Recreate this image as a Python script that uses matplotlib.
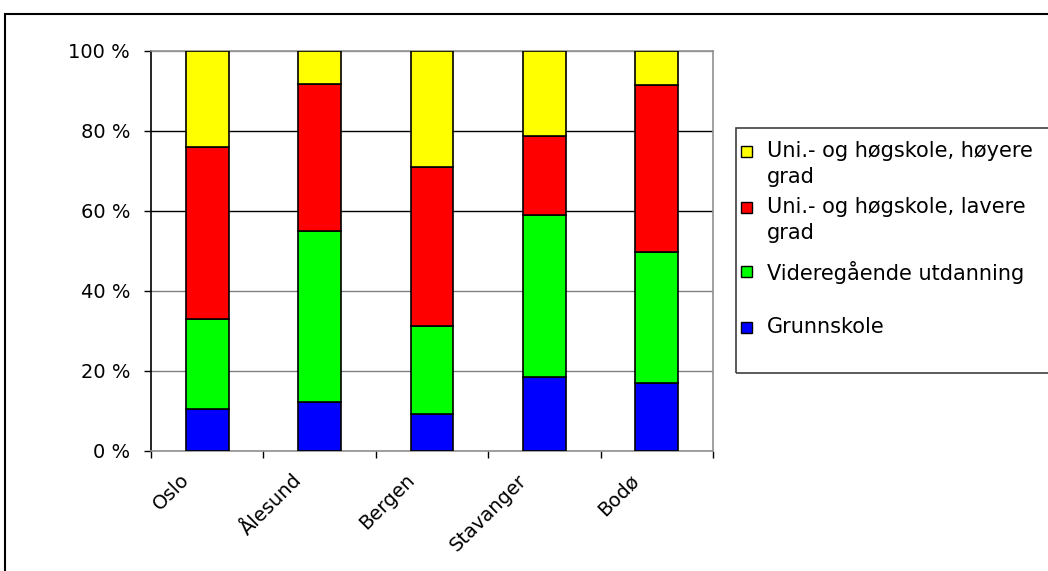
import numpy as np
import matplotlib
matplotlib.use('Agg')
import matplotlib.pyplot as plt
from matplotlib.patches import Rectangle
from matplotlib.transforms import ScaledTranslation

plt.rcParams['font.family'] = 'DejaVu Sans'
plt.rcParams['font.size'] = 14

cities = ['Oslo', 'Ålesund', 'Bergen', 'Stavanger', 'Bodø']
grunnskole = [10.5, 12.3, 9.2, 18.5, 17.1]
videregaende = [22.5, 42.7, 22.0, 40.6, 32.6]
lavere = [43.1, 36.7, 39.7, 19.7, 41.9]
hoyere = [23.9, 8.3, 29.1, 21.2, 8.4]

series = [grunnskole, videregaende, lavere, hoyere]
labels = ['Grunnskole', 'Videregående utdanning',
          'Uni.- og høgskole, lavere\ngrad', 'Uni.- og høgskole, høyere\ngrad']
colors = ['#0000FF', '#00FF00', '#FF0000', '#FFFF00']

W, H = 1048, 571
fig = plt.figure(figsize=(W / 100, H / 100), dpi=100)
ax = fig.add_axes([151 / W, 1 - 451 / H, (713 - 151) / W, 400 / H])

x = np.arange(len(cities))
bottom = np.zeros(len(cities))
for vals, col in zip(series, colors):
    ax.bar(x, vals, 0.38, bottom=bottom, color=col,
           edgecolor='black', linewidth=1.2, zorder=3)
    bottom += np.array(vals)

ax.set_xlim(-0.5, len(cities) - 0.5)
ax.set_ylim(0, 100)

# y axis
yt = np.arange(0, 101, 20)
ax.set_yticks(yt, [f'{v} %' for v in yt])
ax.tick_params(axis='y', direction='out', length=5, width=1, color='black', pad=10)
ax.yaxis.grid(True, linewidth=1, zorder=0)
grid_cols = ['#808080', '#808080', '#808080', 'black', 'black', '#a0a0a0']
for gl, c in zip(ax.get_ygridlines(), grid_cols):
    gl.set_color(c)

# x axis: ticks between categories, labels at centers
ax.set_xticks(np.arange(-0.5, len(cities)), [])
ax.set_xticks(x, cities, minor=True, rotation=45, ha='right')
ax.tick_params(axis='x', which='major', direction='out', length=5, width=1, color='black')
ax.tick_params(axis='x', which='minor', length=0, pad=14)
for lab in ax.get_xticklabels(minor=True):
    lab.set_transform(lab.get_transform() + ScaledTranslation(-0.14, 0, fig.dpi_scale_trans))

for s in ['top', 'right', 'bottom']:
    ax.spines[s].set_color('#909090')
ax.spines['left'].set_color('black')
for s in ax.spines.values():
    s.set_linewidth(1.2)

# outer chart border (cut off at right/bottom like the original)
fig.patches.append(Rectangle((5 / W, -0.1), 1.2, 1 - 14 / H + 0.1, transform=fig.transFigure,
                             fill=False, edgecolor='black', linewidth=1.5))

# legend box
fig.patches.append(Rectangle((736 / W, 1 - 373 / H), 0.5, (373 - 128) / H, transform=fig.transFigure,
                             fill=False, edgecolor='#404040', linewidth=1.2))
entry_y = [327, 271, 207, 151]
for lab, col, yy in zip(labels, colors, entry_y):
    fig.patches.append(Rectangle((741 / W, 1 - (yy + 5.5) / H), 11 / W, 11 / H,
                                 transform=fig.transFigure, facecolor=col,
                                 edgecolor='black', linewidth=1))
    fig.text(767 / W, 1 - (yy - 10) / H, lab, ha='left', va='top',
             fontsize=15, linespacing=1.35)

fig.savefig('out.png', dpi=100)
